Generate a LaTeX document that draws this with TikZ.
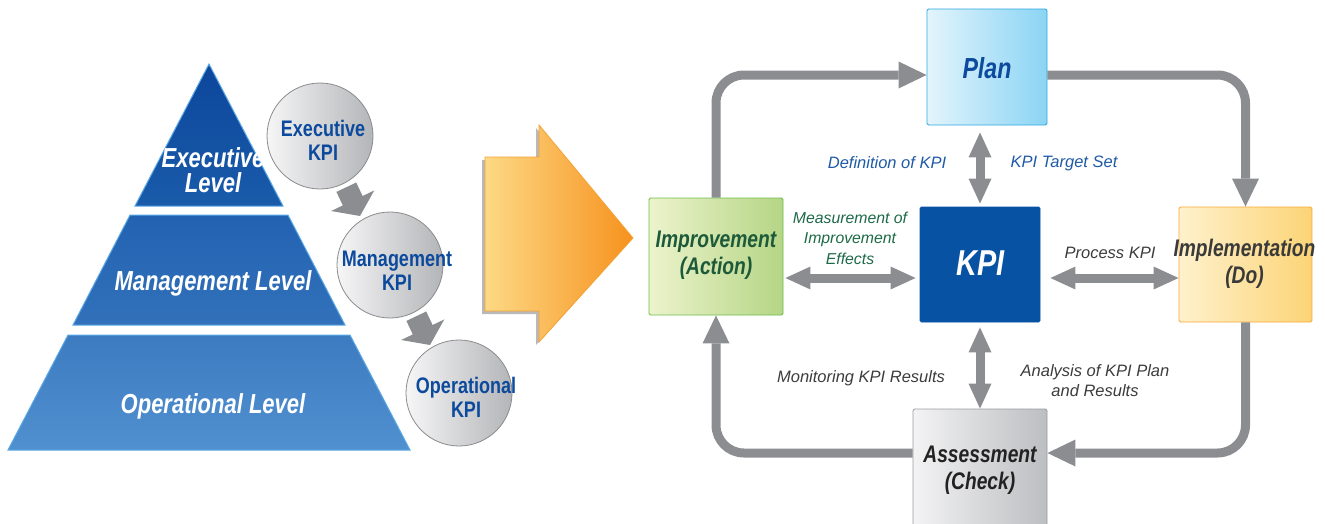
\documentclass[tikz,border=0pt]{standalone}
\usepackage{fontspec}
\setmainfont{Liberation Sans}
\newfontfamily\condfont[FakeStretch=0.8]{Liberation Sans}
\usetikzlibrary{arrows.meta}

\definecolor{pyrTopA}{HTML}{0C469C}
\definecolor{pyrTopB}{HTML}{1A5BAA}
\definecolor{pyrMidA}{HTML}{2262B1}
\definecolor{pyrMidB}{HTML}{3271BA}
\definecolor{pyrBotA}{HTML}{3D7BC1}
\definecolor{pyrBotB}{HTML}{5090CF}
\definecolor{pyrEdge}{HTML}{5AA9E6}
\definecolor{circL}{HTML}{F6F6F7}
\definecolor{circR}{HTML}{B4B5B8}
\definecolor{circEdge}{HTML}{8A8B8D}
\definecolor{kpiBlue}{HTML}{0B4A9C}
\definecolor{flowGray}{HTML}{8C8D90}
\definecolor{orangeL}{HTML}{FDD985}
\definecolor{orangeR}{HTML}{F6921E}
\definecolor{orangeEdge}{HTML}{F5A236}
\definecolor{planL}{HTML}{E3F4FC}
\definecolor{planR}{HTML}{8BD4F4}
\definecolor{planEdge}{HTML}{2EA8E0}
\definecolor{kpiFill}{HTML}{0852A3}
\definecolor{imprL}{HTML}{ECF3CC}
\definecolor{imprR}{HTML}{B5D585}
\definecolor{imprEdge}{HTML}{6BBE48}
\definecolor{imprText}{HTML}{1C5A3A}
\definecolor{implL}{HTML}{FEF1CC}
\definecolor{implR}{HTML}{FCD476}
\definecolor{implEdge}{HTML}{F6A936}
\definecolor{implText}{HTML}{3A3A3A}
\definecolor{assL}{HTML}{F3F3F4}
\definecolor{assR}{HTML}{BDBEC1}
\definecolor{assEdge}{HTML}{9A9B9E}
\definecolor{assText}{HTML}{222222}
\definecolor{lblBlue}{HTML}{1F5AA6}
\definecolor{lblGreen}{HTML}{1D6A46}
\definecolor{lblGray}{HTML}{3C3C3C}

\begin{document}
\begin{tikzpicture}[x=1pt,y=-1pt,
  layer/.style={draw=pyrEdge, line width=1pt},
  levelText/.style={font={\condfont\bfseries\itshape\fontsize{27.5}{25}\selectfont}, align=center, inner sep=0pt, text=white},
  kpicircle/.style={circle, minimum size=106pt, inner sep=0pt, draw=circEdge, line width=0.8pt, left color=circL, right color=circR},
  circText/.style={font={\condfont\bfseries\fontsize{22.5}{24}\selectfont}, align=center, inner sep=0pt, text=kpiBlue},
  blockarrow/.style={fill=flowGray},
  stagebox/.style={rectangle, rounded corners=1.5pt, inner sep=0pt, line width=0.9pt},
  stageText/.style={font={\condfont\bfseries\itshape\fontsize{24}{27.5}\selectfont}, align=center, inner sep=0pt},
  cycleflow/.style={draw=flowGray, line width=9pt, rounded corners=28pt, -{Triangle[length=28pt,width=27pt,line width=0pt 0 0]}},
  linkflow/.style={draw=flowGray, line width=9pt, {Triangle[length=25pt,width=23pt,line width=0pt 0 0]}-{Triangle[length=25pt,width=23pt,line width=0pt 0 0]}},
  note/.style={font={\itshape\fontsize{16.5}{20.8}\selectfont}, align=center, inner sep=0pt}
]
\useasboundingbox (0,0) rectangle (1325,523);

% ---------- pyramid of management levels ----------
\path[layer, top color=pyrTopA, bottom color=pyrTopB] (209,64) -- (283,206) -- (135,206) -- cycle;
\path[layer, top color=pyrMidA, bottom color=pyrMidB] (130,215) -- (288,215) -- (345,325) -- (73,325) -- cycle;
\path[layer, top color=pyrBotA, bottom color=pyrBotB] (68,335) -- (350,335) -- (410,450) -- (8,450) -- cycle;

\node[levelText] (exec) at (213,170) {Executive\\Level};
\node[levelText] (mgmt) at (213,283) {Management Level};
\node[levelText] (oper) at (213,406) {Operational Level};

% ---------- KPI circles ----------
\node[kpicircle] (cExec) at (320,136) {};
\node[kpicircle] (cMgmt) at (390,265) {};
\node[kpicircle] (cOper) at (459,393) {};

\node[circText] (tExec) at (323,140) {Executive\\KPI};
\node[circText] (tMgmt) at (397,271) {Management\\KPI};
\node[circText] (tOper) at (466,397.5) {Operational\\KPI};

% small block arrows cascading between the circles
\foreach \dx/\dy in {0/0, 70/129}{
  \begin{scope}[shift={(\dx,\dy)}]
    \fill[blockarrow] (356.2,182.5) -- (362.6,196) -- (374.3,190.4) -- (360,216)
      -- (331.1,211.0) -- (342.8,205.4) -- (336.4,191.9) -- cycle;
  \end{scope}
}

% ---------- big transition arrow ----------
\fill[gray!55] (482,160) -- (536,160) -- (536,128) -- (630,241) -- (536,345) -- (536,314) -- (482,314) -- cycle;
\path[draw=orangeEdge, line width=0.8pt, left color=orangeL, right color=orangeR]
  (485,157) -- (539,157) -- (539,125) -- (633,238) -- (539,342) -- (539,311) -- (485,311) -- cycle;

% ---------- PDCA cycle around KPI ----------
\node[stagebox, minimum width=120pt, minimum height=116pt, left color=planL, right color=planR, draw=planEdge] (plan) at (987,67) {};
\node[stagebox, minimum width=120pt, minimum height=115pt, fill=kpiFill, draw=kpiFill] (kpi) at (980,264.5) {};
\node[stagebox, minimum width=134pt, minimum height=117pt, left color=imprL, right color=imprR, draw=imprEdge] (impr) at (716,256.5) {};
\node[stagebox, minimum width=133pt, minimum height=115pt, left color=implL, right color=implR, draw=implEdge] (impl) at (1245.5,264.5) {};
\node[stagebox, minimum width=134pt, minimum height=120pt, left color=assL, right color=assR, draw=assEdge] (assess) at (980,469) {};

% stage titles
\node[stageText, text=kpiBlue, font={\condfont\bfseries\itshape\fontsize{29}{30}\selectfont}] (planT) at (987,68) {Plan};
\node[stageText, text=white, font={\condfont\bfseries\itshape\fontsize{36}{36}\selectfont}] (kpiT) at (980.5,263.5) {KPI};
\node[stageText, text=imprText] (imprT) at (716,255) {Improvement\\(Action)};
\node[stageText, text=implText] (implT) at (1244.5,264) {Implementation\\(Do)};
\node[stageText, text=assText]  (assT) at (980,470) {Assessment\\(Check)};

% outer cycle
\draw[cycleflow] (impr.north) |- ([yshift=-8pt]plan.west);
\draw[cycleflow] ([yshift=-8pt]plan.east) -| (impl.north);
\draw[cycleflow] (impl.south) |- ([yshift=16pt]assess.east);
\draw[cycleflow] ([yshift=16pt]assess.west) -| (impr.south);

% links to the KPI box
\coordinate (hrow) at (0,278);
\draw[linkflow, shorten <=7pt, shorten >=3pt] (plan.south -| kpi.north) -- (kpi.north);
\draw[linkflow, shorten <=5pt] (kpi.south) -- (assess.north);
\draw[linkflow, shorten <=2pt, shorten >=4pt] (impr.east |- hrow) -- (kpi.west |- hrow);
\draw[linkflow, shorten <=10pt] (kpi.east |- hrow) -- (impl.west |- hrow);

% link labels
\node[note, text=lblBlue] (defKPI) at (887,163) {Definition of KPI};
\node[note, text=lblBlue] (target) at (1064,163) {KPI Target Set};
\node[note, text=lblGreen, font={\itshape\fontsize{15.8}{20.5}\selectfont}] (measure) at (850,238) {Measurement of\\Improvement\\Effects};
\node[note, text=lblGray] (process) at (1110,253) {Process KPI};
\node[note, text=lblGray] (monitor) at (861,378) {Monitoring KPI Results};
\node[note, text=lblGray] (analysis) at (1095,380.5) {Analysis of KPI Plan\\and Results};
\end{tikzpicture}
\end{document}
